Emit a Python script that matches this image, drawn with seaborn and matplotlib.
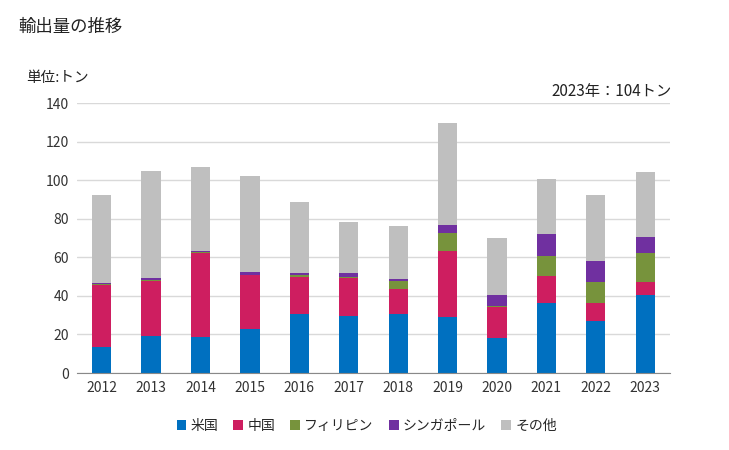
import pandas as pd
import seaborn as sns
import matplotlib.pyplot as plt
from matplotlib.patches import Patch

# データ（単位:トン、グラフから読み取り）
years = ['2012', '2013', '2014', '2015', '2016', '2017', '2018', '2019', '2020', '2021', '2022', '2023']
usa = [13.7, 19.2, 18.9, 23.0, 30.6, 29.6, 30.6, 29.2, 18.2, 36.5, 27.2, 40.7]
china = [32.1, 28.6, 43.6, 27.9, 19.2, 19.7, 13.0, 34.1, 16.1, 13.8, 9.1, 6.5]
philippines = [0.4, 0.5, 0.5, 0.1, 1.1, 0.5, 4.2, 9.4, 0.5, 10.4, 10.9, 15.1]
singapore = [0.4, 1.0, 0.5, 1.4, 1.0, 2.1, 1.0, 4.1, 5.7, 11.4, 10.9, 8.3]
others = [45.7, 55.5, 43.4, 49.8, 36.9, 26.5, 27.5, 53.0, 29.6, 28.6, 34.3, 33.7]

series_names = ['米国', '中国', 'フィリピン', 'シンガポール', 'その他']
colors = ['#0070C0', '#CE1E60', '#77933C', '#7030A0', '#BFBFBF']

df = pd.DataFrame({'year': years, '米国': usa, '中国': china, 'フィリピン': philippines,
                   'シンガポール': singapore, 'その他': others})

sns.set_style('white')
plt.rcParams['font.family'] = ['Noto Sans CJK JP', 'DejaVu Sans']

fig = plt.figure(figsize=(7.29, 4.5), dpi=100)
ax = fig.add_axes([0.1056, 0.171, 0.8134, 0.6])

# 積み上げ：累積値を上から順に重ねて描く
cum = df[series_names].cumsum(axis=1)
for name, color in reversed(list(zip(series_names, colors))):
    sns.barplot(x=df['year'], y=cum[name], color=color, width=0.39,
                saturation=1, linewidth=0, edgecolor='none', ax=ax, zorder=2)

ax.set_ylim(0, 140)
ax.set_xlim(-0.5, 11.5)
ax.set_yticks(range(0, 141, 20))
ax.yaxis.grid(True, color='#D9D9D9', linewidth=1, zorder=0)
ax.set_axisbelow(True)
ax.set_xlabel('')
ax.set_ylabel('')
for s in ['top', 'right', 'left']:
    ax.spines[s].set_visible(False)
ax.spines['bottom'].set_color('#898989')
ax.tick_params(axis='both', length=0, labelsize=10, colors='#333333', pad=6)

fig.text(0.025, 0.94, '輸出量の推移', fontsize=12.5, va='center', ha='left', color='#222222')
fig.text(0.036, 0.826, '単位:トン', fontsize=10.5, va='center', ha='left', color='#222222')
fig.text(0.922, 0.796, '2023年：104トン', fontsize=11, va='center', ha='right', color='#222222')

handles = [Patch(facecolor=c, edgecolor='none') for c in colors]
fig.legend(handles, series_names, loc='center', bbox_to_anchor=(0.503, 0.053), ncol=5,
           frameon=False, fontsize=10, handlelength=0.7, handleheight=0.7,
           handletextpad=0.3, columnspacing=1.1)

fig.savefig('out.png', dpi=100)
